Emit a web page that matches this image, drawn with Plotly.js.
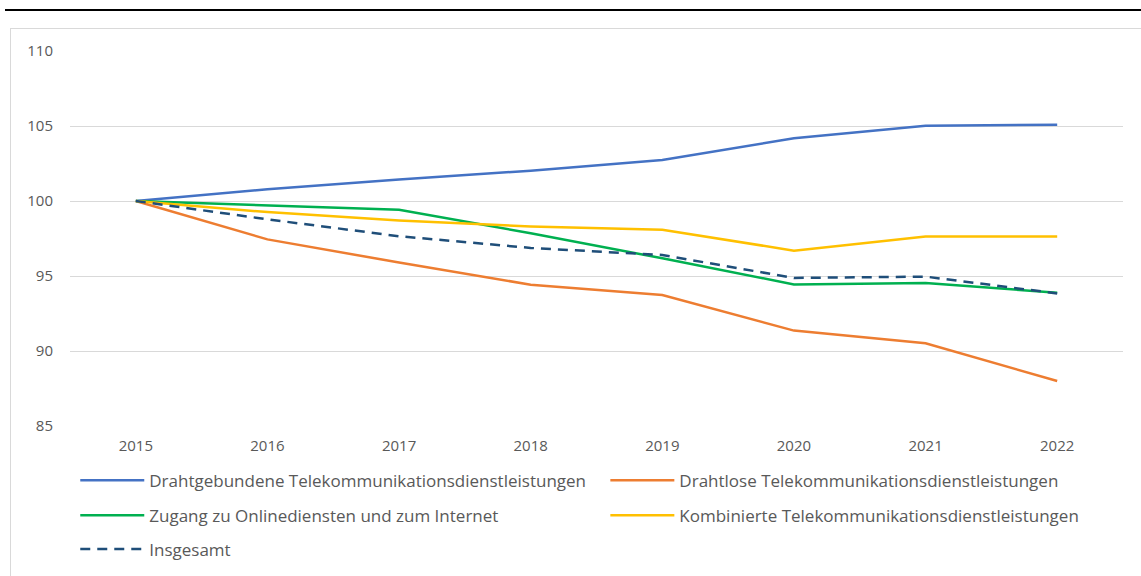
<!DOCTYPE html>
<html>
<head>
<meta charset="utf-8">
<script src="https://cdn.plot.ly/plotly-3.0.1.min.js"></script>
<style>
  html, body { margin: 0; padding: 0; background: #ffffff; overflow: hidden; }
  #topline { position: absolute; left: 5px; top: 9px; width: 1136px; height: 2px; background: #000000; }
  #chart { position: absolute; left: 10px; top: 28px; width: 1140px; height: 560px; border: 1px solid #d9d9d9; background: #ffffff; }
</style>
</head>
<body>
<div id="topline"></div>
<div id="chart"></div>
<script>
const years = ['2015', '2016', '2017', '2018', '2019', '2020', '2021', '2022'];
const drahtgebunden = [100, 100.78, 101.44, 102.02, 102.73, 104.18, 105.02, 105.09];
const drahtlos      = [100, 97.44, 95.9, 94.42, 93.73, 91.36, 90.51, 88.0];
const zugang        = [100, 99.7, 99.42, 97.85, 96.18, 94.44, 94.53, 93.89];
const kombiniert    = [100, 99.26, 98.7, 98.3, 98.09, 96.69, 97.64, 97.64];
const insgesamt     = [100, 98.78, 97.65, 96.87, 96.4, 94.87, 94.96, 93.84];
const yTicks = [85, 90, 95, 100, 105, 110];

const names = {
  a: 'Drahtgebundene Telekommunikationsdienstleistungen',
  b: 'Drahtlose Telekommunikationsdienstleistungen',
  c: 'Zugang zu Onlinediensten und zum Internet',
  d: 'Kombinierte Telekommunikationsdienstleistungen',
  e: 'Insgesamt'
};

function tr(y, name, color, legend, dash) {
  return {
    x: years, y: y, name: name, type: 'scatter', mode: 'lines',
    line: { color: color, width: 2.5, dash: dash || 'solid' },
    legend: legend
  };
}

const data = [
  tr(drahtgebunden, names.a, '#4472C4', 'legend'),
  tr(drahtlos, names.b, '#ED7D31', 'legend2'),
  tr(zugang, names.c, '#00B050', 'legend3'),
  tr(kombiniert, names.d, '#FFC000', 'legend4'),
  tr(insgesamt, names.e, '#1F4E79', 'legend5', '10px,7px')
];

const legFont = { family: 'Open Sans, sans-serif', size: 17, color: '#595959' };
function leg(x, y) {
  return {
    orientation: 'h', x: x, xanchor: 'left', y: y, yanchor: 'top',
    itemwidth: 64, font: legFont, bgcolor: 'rgba(0,0,0,0)'
  };
}

const col1 = 0.005, col2 = 0.5084;
const row1 = -0.098, row2 = -0.191, row3 = -0.281;

const layout = {
  width: 1140, height: 560,
  margin: { l: 59, r: 28, t: 22, b: 163 },
  paper_bgcolor: '#ffffff', plot_bgcolor: '#ffffff',
  font: { family: 'Open Sans, sans-serif', size: 15, color: '#595959' },
  showlegend: true,
  xaxis: {
    type: 'category', range: [-0.5, 7.5], showgrid: false, zeroline: false,
    showline: false, ticks: '', tickfont: { size: 15, color: '#595959' }, ticklabelstandoff: 9
  },
  yaxis: {
    range: [85, 110], tickvals: yTicks, showgrid: true, gridcolor: '#d9d9d9', gridwidth: 1,
    zeroline: false, showline: false, ticks: '', tickfont: { size: 15, color: '#595959' },
    ticklabelstandoff: 16
  },
  legend: leg(col1, row1),
  legend2: leg(col2, row1),
  legend3: leg(col1, row2),
  legend4: leg(col2, row2),
  legend5: leg(col1, row3)
};

Plotly.newPlot('chart', data, layout, { displayModeBar: false, staticPlot: true });
</script>
</body>
</html>
